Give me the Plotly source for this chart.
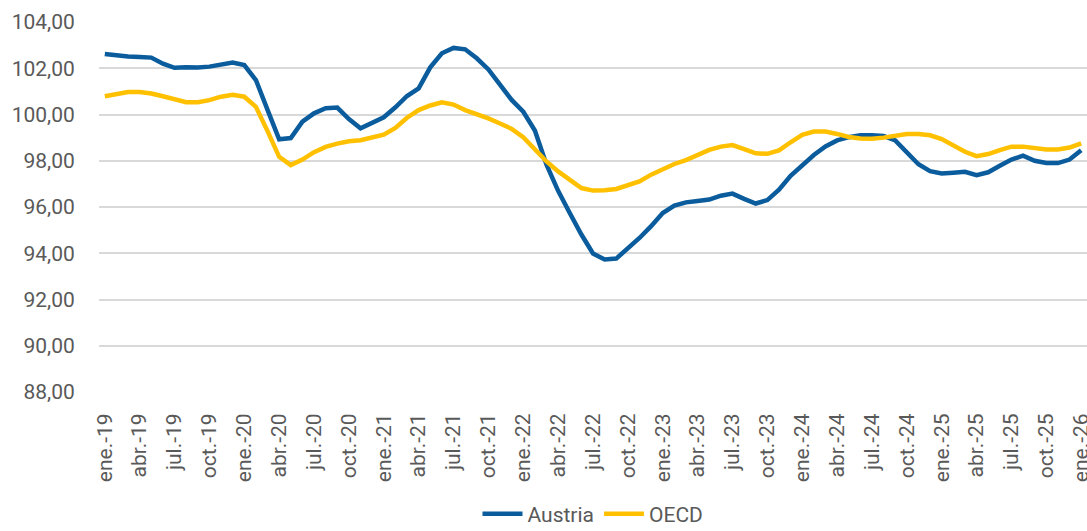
import plotly.graph_objects as go

month_labels = ["ene.", "feb.", "mar.", "abr.", "may.", "jun.", "jul.", "ago.", "sep.", "oct.", "nov.", "dic."]
years = ["19", "20", "21", "22", "23", "24", "25", "26"]

austria = [102.62, 102.55, 102.51, 102.49, 102.46, 102.20, 102.02, 102.04, 102.03, 102.07,
           102.15, 102.25, 102.14, 101.49, 100.20, 98.93, 98.98, 99.69, 100.05, 100.27,
           100.30, 99.80, 99.40, 99.62, 99.88, 100.31, 100.80, 101.13, 102.04, 102.65,
           102.88, 102.82, 102.43, 101.95, 101.28, 100.63, 100.12, 99.31, 97.83, 96.70,
           95.74, 94.81, 93.99, 93.73, 93.77, 94.19, 94.66, 95.17, 95.74, 96.06,
           96.20, 96.26, 96.32, 96.49, 96.58, 96.35, 96.15, 96.30, 96.75, 97.35,
           97.82, 98.25, 98.62, 98.88, 99.02, 99.10, 99.10, 99.07, 98.88, 98.38,
           97.85, 97.55, 97.45, 97.48, 97.52, 97.38, 97.50, 97.78, 98.05, 98.22,
           98.00, 97.90, 97.90, 98.05, 98.45]

oecd = [100.79, 100.87, 100.97, 100.97, 100.91, 100.79, 100.65, 100.53, 100.53, 100.62,
        100.77, 100.85, 100.77, 100.33, 99.28, 98.17, 97.81, 98.05, 98.37, 98.60,
        98.74, 98.84, 98.89, 98.99, 99.13, 99.42, 99.86, 100.19, 100.39, 100.53,
        100.43, 100.19, 100.03, 99.83, 99.61, 99.38, 99.02, 98.50, 97.97, 97.54,
        97.15, 96.82, 96.71, 96.72, 96.78, 96.92, 97.11, 97.40, 97.65, 97.86,
        98.03, 98.27, 98.47, 98.61, 98.68, 98.50, 98.32, 98.30, 98.45, 98.80,
        99.12, 99.26, 99.26, 99.16, 99.03, 98.96, 98.95, 99.00, 99.10, 99.16,
        99.16, 99.10, 98.94, 98.68, 98.39, 98.20, 98.29, 98.46, 98.61, 98.61,
        98.54, 98.49, 98.49, 98.57, 98.75]

dates = [m + "-" + y for y in years for m in month_labels][:len(austria)]
idx = list(range(len(dates)))
tick_idx = idx[::3]
tick_text = [dates[i] for i in tick_idx]

fig = go.Figure()
fig.add_trace(go.Scatter(x=idx, y=austria, mode="lines", name="Austria",
                         line=dict(color="#0B5C9C", width=4.5)))
fig.add_trace(go.Scatter(x=idx, y=oecd, mode="lines", name="OECD",
                         line=dict(color="#FFC000", width=4.5)))

font_family = "Roboto, sans-serif"

fig.update_layout(
    width=1087, height=531,
    margin=dict(l=99, r=0, t=22, b=139, autoexpand=False),
    paper_bgcolor="white", plot_bgcolor="white",
    separators=",.",
    font=dict(family=font_family, color="#595959", size=20),
    showlegend=True,
    legend=dict(orientation="h", x=0.5, xanchor="center", y=-0.33, yanchor="middle",
                font=dict(size=21, color="#595959"), itemwidth=40),
    xaxis=dict(range=[-0.5, 84.5], tickmode="array", tickvals=tick_idx, ticktext=tick_text,
               tickangle=-90, showgrid=False, zeroline=False, showline=False,
               ticks="outside", ticklen=12, tickcolor="rgba(0,0,0,0)", automargin=False,
               ticklabeloverflow="allow",
               tickfont=dict(size=21, color="#595959")),
    yaxis=dict(range=[88, 104], dtick=2, tick0=88, tickformat=".2f",
               showgrid=True, gridcolor="#D9D9D9", gridwidth=1.5, zeroline=False,
               showline=False, ticks="outside", ticklen=19, tickcolor="rgba(0,0,0,0)",
               automargin=False,
               tickfont=dict(size=21, color="#595959")),
)

fig.write_html("out.html", config={"displayModeBar": False},
               post_script="document.body.style.margin='0';document.body.style.overflow='hidden';")
